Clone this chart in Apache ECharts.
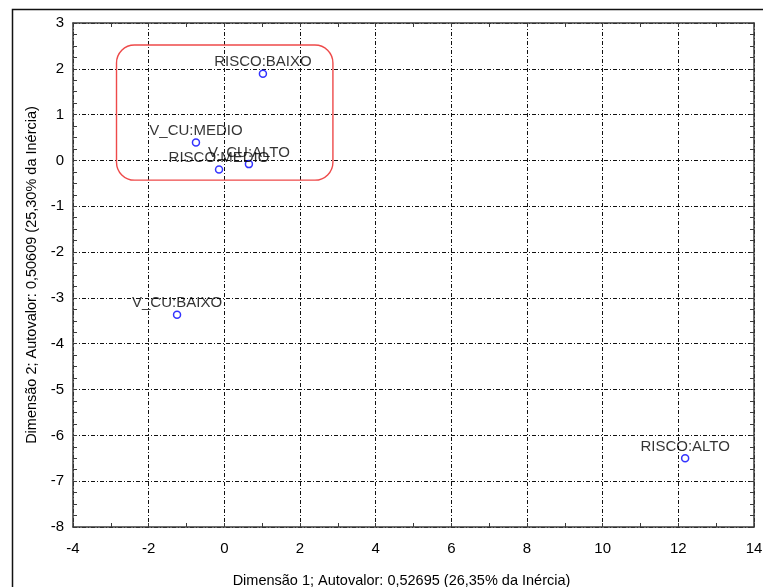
<!DOCTYPE html>
<html>
<head>
<meta charset="utf-8">
<script src="https://cdn.jsdelivr.net/npm/echarts@6/dist/echarts.min.js"></script>
<style>
  html, body { margin: 0; padding: 0; background: #ffffff; }
  #chart { width: 763px; height: 587px; }
</style>
</head>
<body>
<div id="chart"></div>
<script>
// Category points on the first two dimensions of the correspondence analysis
const pointNames = ['RISCO:BAIXO', 'V_CU:MEDIO', 'V_CU:ALTO', 'RISCO:MEDIO', 'V_CU:BAIXO', 'RISCO:ALTO'];
const dim1Values = [1.02, -0.75, 0.65, -0.14, -1.25, 12.18];
const dim2Values = [1.89, 0.39, -0.08, -0.20, -3.37, -6.50];

// Axis titles
const xAxisTitle = 'Dimensão 1; Autovalor: 0,52695 (26,35% da Inércia)';
const yAxisTitle = 'Dimensão 2; Autovalor: 0,50609 (25,30% da Inércia)';

// Group highlighted by the rounded box (data coordinates)
const groupBox = { xFrom: -2.85, xTo: 2.87, yFrom: 2.52, yTo: -0.43 };

const FONT = '"Liberation Sans", Arial, sans-serif';
const AXIS_COLOR = '#3a3a3a';
const GRID_DASH = [4, 2, 1, 2];

const points = pointNames.map((n, i) => ({ name: n, value: [dim1Values[i], dim2Values[i]] }));

const chart = echarts.init(document.getElementById('chart'), null, { renderer: 'canvas' });

function frameAxis(base) {
  return Object.assign({
    type: 'value',
    axisLine: { show: true, onZero: false, lineStyle: { color: AXIS_COLOR, width: 1.5 } },
    axisTick: { show: true, inside: true, length: 4, lineStyle: { color: AXIS_COLOR } },
    minorTick: { show: true, length: 4, lineStyle: { color: AXIS_COLOR } },
    splitLine: { show: false },
    axisLabel: { show: false }
  }, base);
}

const option = {
  animation: false,
  backgroundColor: '#ffffff',
  grid: { left: 73, right: 9, top: 23, bottom: 60, containLabel: false, outerBoundsMode: 'none' },
  xAxis: [
    frameAxis({
      position: 'bottom', min: -4, max: 14, interval: 2,
      minorTick: { show: true, splitNumber: 2, length: 4, lineStyle: { color: AXIS_COLOR } },
      axisLabel: { show: true, color: '#000', fontFamily: FONT, fontSize: 15, margin: 14 },
      splitLine: { show: true, lineStyle: { color: '#111', width: 1, type: GRID_DASH } },
      name: xAxisTitle, nameLocation: 'middle', nameGap: 46,
      nameTextStyle: { color: '#000', fontFamily: FONT, fontSize: 14.5, padding: [0, 24, 0, 0] }
    }),
    frameAxis({
      position: 'top', min: -4, max: 14, interval: 2,
      minorTick: { show: true, splitNumber: 2, length: 4, lineStyle: { color: AXIS_COLOR } }
    })
  ],
  yAxis: [
    frameAxis({
      position: 'left', min: -8, max: 3, interval: 1,
      minorTick: { show: true, splitNumber: 4, length: 4, lineStyle: { color: AXIS_COLOR } },
      axisLabel: { show: true, color: '#000', fontFamily: FONT, fontSize: 15, margin: 9 },
      splitLine: { show: true, lineStyle: { color: '#111', width: 1, type: GRID_DASH } },
      name: yAxisTitle, nameLocation: 'middle', nameGap: 32,
      nameTextStyle: { color: '#000', fontFamily: FONT, fontSize: 14.5 }
    }),
    frameAxis({
      position: 'right', min: -8, max: 3, interval: 1,
      minorTick: { show: true, splitNumber: 4, length: 4, lineStyle: { color: AXIS_COLOR } }
    })
  ],
  series: [{
    type: 'scatter',
    xAxisIndex: 0,
    yAxisIndex: 0,
    data: points,
    symbol: 'circle',
    symbolSize: 7,
    itemStyle: { color: '#ffffff', borderColor: '#0000ff', borderWidth: 1.5 },
    label: {
      show: true,
      position: 'top',
      distance: 0,
      formatter: p => p.name,
      color: '#000',
      fontFamily: FONT,
      fontSize: 15
    },
    emphasis: { disabled: true },
    z: 5
  }]
};

chart.setOption(option);

// Rounded highlight box around the clustered categories, plus the outer frame
const p0 = chart.convertToPixel({ gridIndex: 0 }, [groupBox.xFrom, groupBox.yFrom]);
const p1 = chart.convertToPixel({ gridIndex: 0 }, [groupBox.xTo, groupBox.yTo]);

chart.setOption({
  graphic: [
    {
      type: 'rect',
      shape: { x: p0[0], y: p0[1], width: p1[0] - p0[0], height: p1[1] - p0[1], r: 18 },
      style: { fill: null, stroke: '#ee4a4a', lineWidth: 1.4 },
      z: 3, silent: true
    },
    {
      type: 'polyline',
      shape: { points: [[12.5, 600], [12.5, 9.5], [780, 9.5]] },
      style: { fill: null, stroke: '#111', lineWidth: 1.5 },
      z: 3, silent: true
    }
  ]
});
</script>
</body>
</html>
